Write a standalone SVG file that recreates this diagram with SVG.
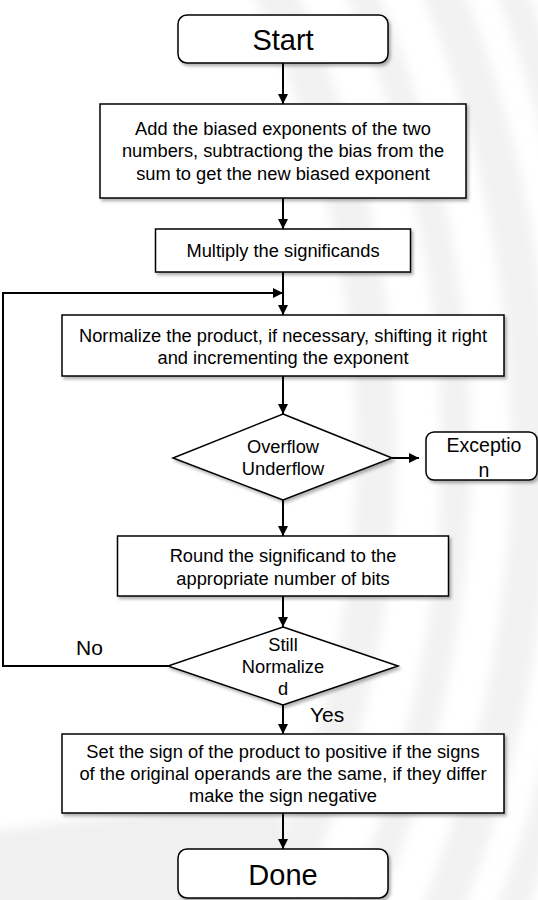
<svg xmlns="http://www.w3.org/2000/svg" width="538" height="900" viewBox="0 0 538 900">
<style>
.box{fill:#fff;stroke:#000;stroke-width:1.5;filter:url(#sh)}
.t{font-family:"Liberation Sans",Arial,sans-serif;font-size:18.3px;fill:#000;text-anchor:middle}
.big{font-size:29px}
.lbl{font-family:"Liberation Sans",Arial,sans-serif;font-size:21px;fill:#000}
.c{fill:none;stroke:#000;stroke-width:2}
.bg{fill:none;stroke:#f2f2f2}
</style>
<defs>
<filter id="sh" x="-10%" y="-10%" width="130%" height="140%">
<feDropShadow dx="2" dy="2.5" stdDeviation="1.5" flood-color="#000" flood-opacity="0.3"/>
</filter>
<filter id="soft" x="-5%" y="-5%" width="110%" height="110%">
<feGaussianBlur stdDeviation="6"/>
</filter>
<marker id="ah" markerWidth="10" markerHeight="10" refX="10" refY="5" orient="auto" markerUnits="userSpaceOnUse">
<path d="M0,0 L10,5 L0,10 Z" fill="#000"/>
</marker>
</defs>
<rect width="538" height="900" fill="#fff"/>
<g id="background" filter="url(#soft)">
<circle class="bg" cx="-704" cy="450" r="1080" stroke-width="40"/>
<circle class="bg" cx="-704" cy="450" r="1160" stroke-width="30"/>
<circle class="bg" cx="-704" cy="450" r="1235" stroke-width="40"/>
<circle class="bg" cx="-704" cy="450" r="1300" stroke-width="30"/>
<path d="M-20,834 Q120,812 283,800 L283,920 L-20,920 Z" fill="#f0f0f0"/>
</g>
<g id="connectors">
<line class="c" x1="283" y1="63" x2="283" y2="104" marker-end="url(#ah)"/>
<line class="c" x1="283" y1="198" x2="283" y2="229" marker-end="url(#ah)"/>
<line class="c" x1="283" y1="272" x2="283" y2="315" marker-end="url(#ah)"/>
<polyline class="c" points="168,666 3,666 3,293 283,293" marker-end="url(#ah)"/>
<line class="c" x1="283" y1="376" x2="283" y2="414" marker-end="url(#ah)"/>
<line class="c" x1="392" y1="458" x2="419" y2="458" marker-end="url(#ah)"/>
<line class="c" x1="283" y1="500" x2="283" y2="536" marker-end="url(#ah)"/>
<line class="c" x1="283" y1="596" x2="283" y2="627" marker-end="url(#ah)"/>
<line class="c" x1="283" y1="705" x2="283" y2="734" marker-end="url(#ah)"/>
<line class="c" x1="283" y1="813" x2="283" y2="849" marker-end="url(#ah)"/>
<text class="lbl" x="76" y="655">No</text>
<text class="lbl" x="310" y="722">Yes</text>
</g>
<g id="start">
<rect class="box" x="178" y="15" width="210" height="48" rx="9"/>
<text class="t big" x="283" y="50">Start</text>
</g>
<g id="add">
<rect class="box" x="100" y="104" width="366" height="94"/>
<text class="t" x="283" y="135">Add the biased exponents of the two</text>
<text class="t" x="283" y="157">numbers, subtractiong the bias from the</text>
<text class="t" x="283" y="180">sum to get the new biased exponent</text>
</g>
<g id="multiply">
<rect class="box" x="155.5" y="229" width="255" height="43"/>
<text class="t" x="283" y="257">Multiply the significands</text>
</g>
<g id="normalize">
<rect class="box" x="62" y="315" width="442" height="61"/>
<text class="t" x="283" y="342">Normalize the product, if necessary, shifting it right</text>
<text class="t" x="283" y="364">and incrementing the exponent</text>
</g>
<g id="overflow">
<polygon class="box" points="283,414 392,458 283,500 173,458"/>
<text class="t" x="283" y="453">Overflow</text>
<text class="t" x="283" y="475">Underflow</text>
</g>
<g id="exception">
<rect class="box" x="426" y="432" width="111" height="48" rx="8"/>
<text class="t" x="484" y="452" style="font-size:19.5px">Exceptio</text>
<text class="t" x="484" y="477" style="font-size:19.5px">n</text>
</g>
<g id="round">
<rect class="box" x="117.5" y="536" width="331" height="60"/>
<text class="t" x="283" y="562">Round the significand to the</text>
<text class="t" x="283" y="585">appropriate number of bits</text>
</g>
<g id="still">
<polygon class="box" points="283,627 398,666 283,705 168,666"/>
<text class="t" x="283" y="651">Still</text>
<text class="t" x="283" y="673">Normalize</text>
<text class="t" x="283" y="695">d</text>
</g>
<g id="sign">
<rect class="box" x="62" y="734" width="442" height="79"/>
<text class="t" x="283" y="758">Set the sign of the product to positive if the signs</text>
<text class="t" x="283" y="780">of the original operands are the same, if they differ</text>
<text class="t" x="283" y="802">make the sign negative</text>
</g>
<g id="done">
<rect class="box" x="178" y="849" width="210" height="49" rx="9"/>
<text class="t big" x="283" y="885">Done</text>
</g>
</svg>
